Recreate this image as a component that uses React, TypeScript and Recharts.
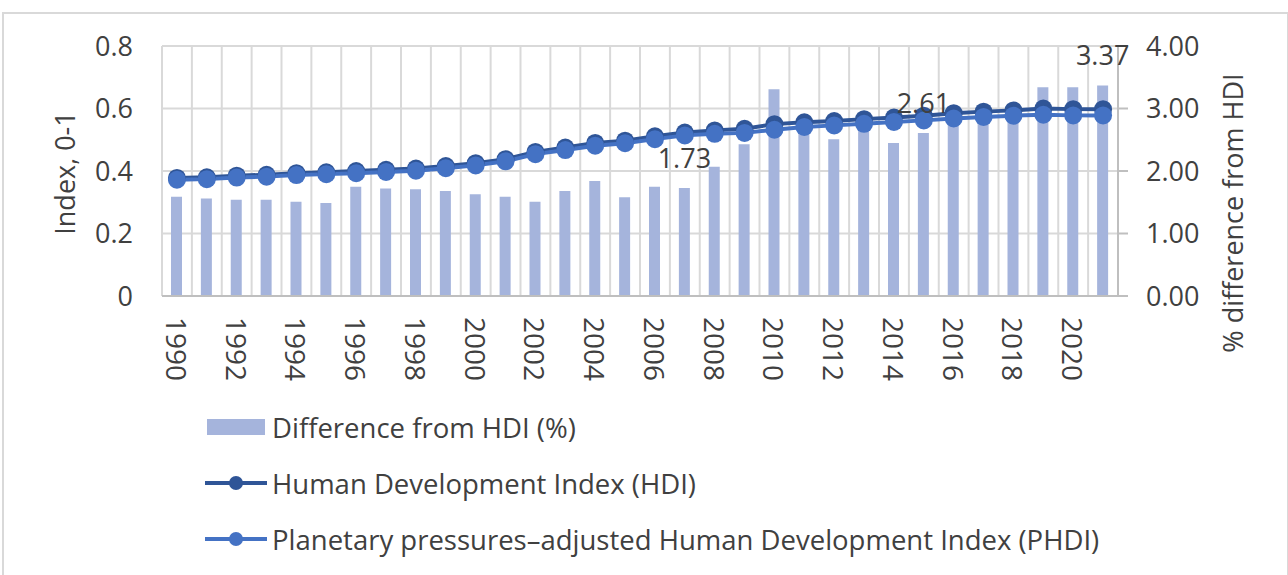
import React from 'react';
import { ComposedChart, Bar, Line, XAxis, YAxis, CartesianGrid, Legend, LabelList, Label } from 'recharts';

const years = ['1990','1991','1992','1993','1994','1995','1996','1997','1998','1999','2000','2001','2002','2003','2004','2005','2006','2007','2008','2009','2010','2011','2012','2013','2014','2015','2016','2017','2018','2019','2020','2021'];
const diffPct = [1.59,1.56,1.54,1.54,1.51,1.49,1.75,1.72,1.71,1.68,1.63,1.59,1.51,1.68,1.84,1.58,1.75,1.73,2.07,2.43,3.31,2.68,2.51,2.72,2.45,2.61,2.86,2.92,2.98,3.34,3.34,3.37];
const hdi = [0.378,0.380,0.385,0.388,0.393,0.396,0.400,0.404,0.408,0.416,0.425,0.438,0.461,0.475,0.490,0.497,0.511,0.523,0.530,0.535,0.550,0.556,0.560,0.566,0.571,0.577,0.585,0.590,0.594,0.600,0.598,0.598];
const phdi = [0.372,0.374,0.379,0.382,0.387,0.390,0.393,0.397,0.401,0.409,0.418,0.431,0.454,0.467,0.481,0.489,0.502,0.514,0.519,0.522,0.532,0.541,0.546,0.551,0.557,0.562,0.568,0.573,0.577,0.580,0.578,0.578];
const labelledYears = ['2007','2015','2021'];
const leftTicks = [0, 0.2, 0.4, 0.6, 0.8];
const rightTicks = [0, 1, 2, 3, 4];

const seriesNames = {
  diff: 'Difference from HDI (%)',
  hdi: 'Human Development Index (HDI)',
  phdi: 'Planetary pressures\u2013adjusted Human Development Index (PHDI)',
};

const BAR_COLOR = '#A5B4DC';
const HDI_COLOR = '#2F5597';
const PHDI_COLOR = '#4472C4';
const TEXT = '#404040';
const GRID = '#D9D9D9';
const FONT = '"Open Sans", sans-serif';
const FS = 27;
const FS_LEG = 27.5;
const FS_X = 28;

const data = years.map((y, i) => ({
  year: y,
  diff: diffPct[i],
  hdi: hdi[i],
  phdi: phdi[i],
  lbl: labelledYears.includes(y) ? diffPct[i].toFixed(2) : '',
}));

const YearTick = (props: any) => {
  const { x, y, payload } = props;
  return (
    <text
      transform={`translate(${x},${y}) rotate(90)`}
      textAnchor="start"
      dominantBaseline="central"
      fontSize={FS_X}
      fontFamily={FONT}
      fill={TEXT}
    >
      {payload.value}
    </text>
  );
};

const LeftTitle = (props: any) => {
  const vb = props.viewBox || { x: 0, y: 46, width: 162, height: 250 };
  const cx = vb.x + 64;
  const cy = vb.y + vb.height / 2 + 2;
  return (
    <text
      transform={`translate(${cx},${cy}) rotate(-90)`}
      textAnchor="middle"
      dominantBaseline="central"
      fontSize={FS}
      fontFamily={FONT}
      fill={TEXT}
    >
      Index, 0-1
    </text>
  );
};

const RightTitle = (props: any) => {
  const vb = props.viewBox || { x: 1118, y: 46, width: 170, height: 250 };
  const cx = vb.x + 114;
  const cy = vb.y + vb.height / 2 + 42;
  return (
    <text
      transform={`translate(${cx},${cy}) rotate(-90)`}
      textAnchor="middle"
      dominantBaseline="central"
      fontSize={FS}
      fontFamily={FONT}
      fill={TEXT}
    >
      % difference from HDI
    </text>
  );
};

const LegendContent = () => {
  const row: React.CSSProperties = { display: 'flex', alignItems: 'center', height: 56 };
  const txt: React.CSSProperties = { fontFamily: FONT, fontSize: FS_LEG, color: TEXT, marginLeft: 5, whiteSpace: 'nowrap' };
  const lineIcon = (c: string) => (
    <svg width={62} height={20}>
      <line x1={0} y1={10} x2={62} y2={10} stroke={c} strokeWidth={4} />
      <circle cx={31} cy={10} r={7} fill={c} />
    </svg>
  );
  return (
    <div style={{ paddingLeft: 205 }}>
      <div style={row}>
        <svg width={62} height={20}>
          <rect x={2} y={2} width={58} height={16} fill={BAR_COLOR} />
        </svg>
        <span style={txt}>{seriesNames.diff}</span>
      </div>
      <div style={row}>
        {lineIcon(HDI_COLOR)}
        <span style={txt}>{seriesNames.hdi}</span>
      </div>
      <div style={row}>
        {lineIcon(PHDI_COLOR)}
        <span style={txt}>{seriesNames.phdi}</span>
      </div>
    </div>
  );
};

const verticalGen = (props: any) => {
  const off = props.offset || {};
  const n = years.length;
  const left = off.left ?? 162;
  const w = off.width ?? 956;
  return Array.from({ length: n + 1 }, (_, i) => left + (i * w) / n);
};

export default function App() {
  return (
    <div style={{ position: 'absolute', left: 0, top: 0, width: 1288, height: 575, overflow: 'hidden', background: '#fff' }}>
      <div style={{ position: 'absolute', left: 2, top: 12, width: 1283, height: 620, border: '2px solid #D9D9D9' }} />
      <div style={{ position: 'absolute', left: 0, top: 0 }}>
        <ComposedChart width={1288} height={575} data={data} margin={{ top: 46, right: 0, bottom: 199, left: 0 }}>
          <CartesianGrid yAxisId="left" stroke={GRID} strokeWidth={2} verticalCoordinatesGenerator={verticalGen} />
          <XAxis
            dataKey="year"
            height={80}
            interval={1}
            tickLine={false}
            tickSize={0}
            tickMargin={21}
            axisLine={{ stroke: '#BFBFBF', strokeWidth: 2 }}
            tick={<YearTick />}
          />
          <YAxis
            yAxisId="left"
            width={162}
            domain={[0, 0.8]}
            ticks={leftTicks}
            tickFormatter={(v: number) => (v === 0 ? '0' : v.toFixed(1))}
            axisLine={false}
            tickLine={false}
            tickSize={0}
            tickMargin={29}
            tick={{ fontSize: FS, fontFamily: FONT, fill: TEXT }}
          >
            <Label content={<LeftTitle />} />
          </YAxis>
          <YAxis
            yAxisId="right"
            orientation="right"
            width={170}
            domain={[0, 4]}
            ticks={rightTicks}
            tickFormatter={(v: number) => v.toFixed(2)}
            axisLine={{ stroke: '#BFBFBF', strokeWidth: 2 }}
            tickLine={{ stroke: '#BFBFBF', strokeWidth: 2 }}
            tickSize={10}
            tickMargin={18}
            tick={{ fontSize: FS, fontFamily: FONT, fill: TEXT, textAnchor: 'start' }}
          >
            <Label content={<RightTitle />} />
          </YAxis>
          <Legend
            layout="horizontal"
            verticalAlign="middle"
            align="center"
            content={<LegendContent />}
            wrapperStyle={{ position: 'absolute', left: 0, top: 399, width: 1288, height: 170 }}
          />
          <Bar yAxisId="right" dataKey="diff" name={seriesNames.diff} fill={BAR_COLOR} barSize={11} isAnimationActive={false}>
            <LabelList dataKey="lbl" position="top" offset={20} fill={TEXT} fontSize={FS} fontFamily={FONT} />
          </Bar>
          <Line
            yAxisId="left"
            dataKey="hdi"
            name={seriesNames.hdi}
            stroke={HDI_COLOR}
            strokeWidth={4}
            dot={{ r: 9, fill: HDI_COLOR, stroke: HDI_COLOR, strokeWidth: 0 }}
            activeDot={false}
            isAnimationActive={false}
          />
          <Line
            yAxisId="left"
            dataKey="phdi"
            name={seriesNames.phdi}
            stroke={PHDI_COLOR}
            strokeWidth={4}
            dot={{ r: 9, fill: PHDI_COLOR, stroke: PHDI_COLOR, strokeWidth: 0 }}
            activeDot={false}
            isAnimationActive={false}
          />
        </ComposedChart>
      </div>
    </div>
  );
}
